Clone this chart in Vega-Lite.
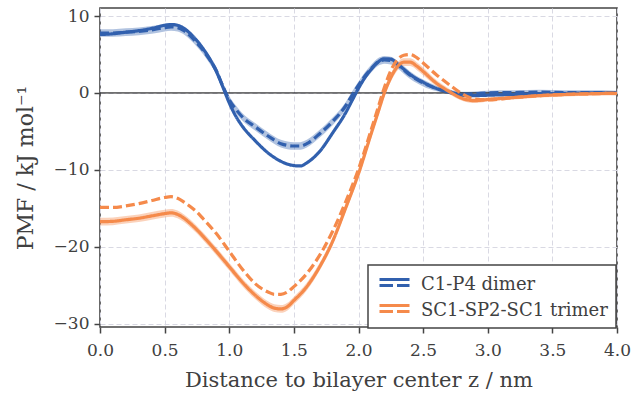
{
  "$schema": "https://vega.github.io/schema/vega-lite/v6.json",
  "width": 517,
  "height": 319,
  "autosize": {"type": "none"},
  "padding": {"left": 100, "top": 8, "right": 16, "bottom": 66},
  "background": "white",
  "config": {
    "font": "DejaVu Serif",
    "view": {"stroke": "#444444", "strokeWidth": 1.6},
    "axis": {
      "domain": false,
      "grid": true,
      "gridColor": "#d9d9e3",
      "gridDash": [5, 3],
      "gridWidth": 1,
      "ticks": true,
      "tickColor": "#444444",
      "tickSize": 6,
      "tickWidth": 1.5,
      "labelFont": "DejaVu Serif",
      "labelFontSize": 17,
      "labelColor": "#404040",
      "titleFont": "DejaVu Serif",
      "titleFontSize": 21,
      "titleFontWeight": "normal",
      "titleColor": "#404040",
      "labelFlush": false
    },
    "legend": {"strokeWidth": 1.5}
  },
  "datasets": {
    "curves": [
      {"z":0.0,"v":7.6,"s":"C1-P4 dimer","d":"solid"},
      {"z":0.1,"v":7.7,"s":"C1-P4 dimer","d":"solid"},
      {"z":0.2,"v":7.9,"s":"C1-P4 dimer","d":"solid"},
      {"z":0.3,"v":8.1,"s":"C1-P4 dimer","d":"solid"},
      {"z":0.4,"v":8.4,"s":"C1-P4 dimer","d":"solid"},
      {"z":0.5,"v":8.8,"s":"C1-P4 dimer","d":"solid"},
      {"z":0.55,"v":8.9,"s":"C1-P4 dimer","d":"solid"},
      {"z":0.6,"v":8.8,"s":"C1-P4 dimer","d":"solid"},
      {"z":0.65,"v":8.4,"s":"C1-P4 dimer","d":"solid"},
      {"z":0.7,"v":7.7,"s":"C1-P4 dimer","d":"solid"},
      {"z":0.75,"v":6.8,"s":"C1-P4 dimer","d":"solid"},
      {"z":0.8,"v":5.7,"s":"C1-P4 dimer","d":"solid"},
      {"z":0.85,"v":4.4,"s":"C1-P4 dimer","d":"solid"},
      {"z":0.9,"v":2.8,"s":"C1-P4 dimer","d":"solid"},
      {"z":0.95,"v":0.8,"s":"C1-P4 dimer","d":"solid"},
      {"z":1.0,"v":-1.3,"s":"C1-P4 dimer","d":"solid"},
      {"z":1.05,"v":-3.0,"s":"C1-P4 dimer","d":"solid"},
      {"z":1.1,"v":-4.3,"s":"C1-P4 dimer","d":"solid"},
      {"z":1.2,"v":-6.2,"s":"C1-P4 dimer","d":"solid"},
      {"z":1.3,"v":-7.8,"s":"C1-P4 dimer","d":"solid"},
      {"z":1.4,"v":-8.9,"s":"C1-P4 dimer","d":"solid"},
      {"z":1.5,"v":-9.45,"s":"C1-P4 dimer","d":"solid"},
      {"z":1.55,"v":-9.5,"s":"C1-P4 dimer","d":"solid"},
      {"z":1.6,"v":-9.1,"s":"C1-P4 dimer","d":"solid"},
      {"z":1.7,"v":-7.6,"s":"C1-P4 dimer","d":"solid"},
      {"z":1.8,"v":-5.2,"s":"C1-P4 dimer","d":"solid"},
      {"z":1.9,"v":-2.6,"s":"C1-P4 dimer","d":"solid"},
      {"z":1.95,"v":-1.0,"s":"C1-P4 dimer","d":"solid"},
      {"z":2.0,"v":0.6,"s":"C1-P4 dimer","d":"solid"},
      {"z":2.05,"v":2.0,"s":"C1-P4 dimer","d":"solid"},
      {"z":2.1,"v":3.1,"s":"C1-P4 dimer","d":"solid"},
      {"z":2.15,"v":4.0,"s":"C1-P4 dimer","d":"solid"},
      {"z":2.2,"v":4.45,"s":"C1-P4 dimer","d":"solid"},
      {"z":2.25,"v":4.4,"s":"C1-P4 dimer","d":"solid"},
      {"z":2.3,"v":3.8,"s":"C1-P4 dimer","d":"solid"},
      {"z":2.35,"v":3.1,"s":"C1-P4 dimer","d":"solid"},
      {"z":2.4,"v":2.4,"s":"C1-P4 dimer","d":"solid"},
      {"z":2.5,"v":1.4,"s":"C1-P4 dimer","d":"solid"},
      {"z":2.6,"v":0.6,"s":"C1-P4 dimer","d":"solid"},
      {"z":2.7,"v":0.1,"s":"C1-P4 dimer","d":"solid"},
      {"z":2.8,"v":-0.3,"s":"C1-P4 dimer","d":"solid"},
      {"z":2.9,"v":-0.35,"s":"C1-P4 dimer","d":"solid"},
      {"z":3.0,"v":-0.3,"s":"C1-P4 dimer","d":"solid"},
      {"z":3.2,"v":-0.2,"s":"C1-P4 dimer","d":"solid"},
      {"z":3.4,"v":-0.1,"s":"C1-P4 dimer","d":"solid"},
      {"z":3.6,"v":-0.05,"s":"C1-P4 dimer","d":"solid"},
      {"z":3.8,"v":0.0,"s":"C1-P4 dimer","d":"solid"},
      {"z":4.0,"v":0.0,"s":"C1-P4 dimer","d":"solid"},

      {"z":0.0,"v":7.8,"lo":7.3,"hi":8.3,"s":"C1-P4 dimer","d":"dashed"},
      {"z":0.1,"v":7.8,"lo":7.3,"hi":8.3,"s":"C1-P4 dimer","d":"dashed"},
      {"z":0.2,"v":7.9,"lo":7.4,"hi":8.4,"s":"C1-P4 dimer","d":"dashed"},
      {"z":0.3,"v":8.0,"lo":7.5,"hi":8.5,"s":"C1-P4 dimer","d":"dashed"},
      {"z":0.4,"v":8.2,"lo":7.7,"hi":8.7,"s":"C1-P4 dimer","d":"dashed"},
      {"z":0.5,"v":8.5,"lo":8.0,"hi":9.0,"s":"C1-P4 dimer","d":"dashed"},
      {"z":0.55,"v":8.6,"lo":8.1,"hi":9.1,"s":"C1-P4 dimer","d":"dashed"},
      {"z":0.6,"v":8.5,"lo":8.0,"hi":9.0,"s":"C1-P4 dimer","d":"dashed"},
      {"z":0.65,"v":8.1,"lo":7.6,"hi":8.6,"s":"C1-P4 dimer","d":"dashed"},
      {"z":0.7,"v":7.4,"lo":6.9,"hi":7.9,"s":"C1-P4 dimer","d":"dashed"},
      {"z":0.75,"v":6.5,"lo":6.0,"hi":7.0,"s":"C1-P4 dimer","d":"dashed"},
      {"z":0.8,"v":5.5,"lo":5.0,"hi":6.0,"s":"C1-P4 dimer","d":"dashed"},
      {"z":0.85,"v":4.3,"lo":3.8,"hi":4.8,"s":"C1-P4 dimer","d":"dashed"},
      {"z":0.9,"v":2.9,"lo":2.4,"hi":3.4,"s":"C1-P4 dimer","d":"dashed"},
      {"z":0.95,"v":0.9,"lo":0.4,"hi":1.4,"s":"C1-P4 dimer","d":"dashed"},
      {"z":1.0,"v":-0.9,"lo":-1.4,"hi":-0.4,"s":"C1-P4 dimer","d":"dashed"},
      {"z":1.05,"v":-2.1,"lo":-2.6,"hi":-1.6,"s":"C1-P4 dimer","d":"dashed"},
      {"z":1.1,"v":-3.1,"lo":-3.6,"hi":-2.6,"s":"C1-P4 dimer","d":"dashed"},
      {"z":1.2,"v":-4.4,"lo":-4.9,"hi":-3.9,"s":"C1-P4 dimer","d":"dashed"},
      {"z":1.3,"v":-5.6,"lo":-6.1,"hi":-5.1,"s":"C1-P4 dimer","d":"dashed"},
      {"z":1.4,"v":-6.6,"lo":-7.1,"hi":-6.1,"s":"C1-P4 dimer","d":"dashed"},
      {"z":1.5,"v":-6.9,"lo":-7.4,"hi":-6.4,"s":"C1-P4 dimer","d":"dashed"},
      {"z":1.55,"v":-6.9,"lo":-7.4,"hi":-6.4,"s":"C1-P4 dimer","d":"dashed"},
      {"z":1.6,"v":-6.6,"lo":-7.1,"hi":-6.1,"s":"C1-P4 dimer","d":"dashed"},
      {"z":1.7,"v":-5.3,"lo":-5.8,"hi":-4.8,"s":"C1-P4 dimer","d":"dashed"},
      {"z":1.8,"v":-3.7,"lo":-4.2,"hi":-3.2,"s":"C1-P4 dimer","d":"dashed"},
      {"z":1.9,"v":-1.7,"lo":-2.2,"hi":-1.2,"s":"C1-P4 dimer","d":"dashed"},
      {"z":1.95,"v":-0.3,"lo":-0.8,"hi":0.2,"s":"C1-P4 dimer","d":"dashed"},
      {"z":2.0,"v":1.0,"lo":0.5,"hi":1.5,"s":"C1-P4 dimer","d":"dashed"},
      {"z":2.05,"v":2.2,"lo":1.7,"hi":2.7,"s":"C1-P4 dimer","d":"dashed"},
      {"z":2.1,"v":3.2,"lo":2.7,"hi":3.7,"s":"C1-P4 dimer","d":"dashed"},
      {"z":2.15,"v":4.0,"lo":3.5,"hi":4.5,"s":"C1-P4 dimer","d":"dashed"},
      {"z":2.2,"v":4.3,"lo":3.8,"hi":4.8,"s":"C1-P4 dimer","d":"dashed"},
      {"z":2.25,"v":4.2,"lo":3.7,"hi":4.7,"s":"C1-P4 dimer","d":"dashed"},
      {"z":2.3,"v":3.7,"lo":3.2,"hi":4.2,"s":"C1-P4 dimer","d":"dashed"},
      {"z":2.35,"v":3.0,"lo":2.5,"hi":3.5,"s":"C1-P4 dimer","d":"dashed"},
      {"z":2.4,"v":2.3,"lo":1.8,"hi":2.8,"s":"C1-P4 dimer","d":"dashed"},
      {"z":2.5,"v":1.3,"lo":0.85,"hi":1.75,"s":"C1-P4 dimer","d":"dashed"},
      {"z":2.6,"v":0.6,"lo":0.25,"hi":0.95,"s":"C1-P4 dimer","d":"dashed"},
      {"z":2.7,"v":0.15,"lo":-0.15,"hi":0.45,"s":"C1-P4 dimer","d":"dashed"},
      {"z":2.8,"v":-0.15,"lo":-0.45,"hi":0.15,"s":"C1-P4 dimer","d":"dashed"},
      {"z":2.9,"v":-0.1,"lo":-0.4,"hi":0.2,"s":"C1-P4 dimer","d":"dashed"},
      {"z":3.0,"v":0.0,"lo":-0.3,"hi":0.3,"s":"C1-P4 dimer","d":"dashed"},
      {"z":3.2,"v":0.05,"lo":-0.25,"hi":0.35,"s":"C1-P4 dimer","d":"dashed"},
      {"z":3.4,"v":0.1,"lo":-0.2,"hi":0.4,"s":"C1-P4 dimer","d":"dashed"},
      {"z":3.6,"v":0.05,"lo":-0.25,"hi":0.35,"s":"C1-P4 dimer","d":"dashed"},
      {"z":3.8,"v":0.05,"lo":-0.25,"hi":0.35,"s":"C1-P4 dimer","d":"dashed"},
      {"z":4.0,"v":0.0,"lo":-0.3,"hi":0.3,"s":"C1-P4 dimer","d":"dashed"},

      {"z":0.0,"v":-16.75,"lo":-17.25,"hi":-16.25,"s":"SC1-SP2-SC1 trimer","d":"solid"},
      {"z":0.1,"v":-16.7,"lo":-17.2,"hi":-16.2,"s":"SC1-SP2-SC1 trimer","d":"solid"},
      {"z":0.2,"v":-16.5,"lo":-17.0,"hi":-16.0,"s":"SC1-SP2-SC1 trimer","d":"solid"},
      {"z":0.3,"v":-16.3,"lo":-16.8,"hi":-15.8,"s":"SC1-SP2-SC1 trimer","d":"solid"},
      {"z":0.4,"v":-16.0,"lo":-16.5,"hi":-15.5,"s":"SC1-SP2-SC1 trimer","d":"solid"},
      {"z":0.5,"v":-15.7,"lo":-16.2,"hi":-15.2,"s":"SC1-SP2-SC1 trimer","d":"solid"},
      {"z":0.55,"v":-15.6,"lo":-16.1,"hi":-15.1,"s":"SC1-SP2-SC1 trimer","d":"solid"},
      {"z":0.6,"v":-15.8,"lo":-16.3,"hi":-15.3,"s":"SC1-SP2-SC1 trimer","d":"solid"},
      {"z":0.65,"v":-16.3,"lo":-16.8,"hi":-15.8,"s":"SC1-SP2-SC1 trimer","d":"solid"},
      {"z":0.7,"v":-17.0,"lo":-17.5,"hi":-16.5,"s":"SC1-SP2-SC1 trimer","d":"solid"},
      {"z":0.75,"v":-17.8,"lo":-18.3,"hi":-17.3,"s":"SC1-SP2-SC1 trimer","d":"solid"},
      {"z":0.8,"v":-18.7,"lo":-19.2,"hi":-18.2,"s":"SC1-SP2-SC1 trimer","d":"solid"},
      {"z":0.9,"v":-20.6,"lo":-21.1,"hi":-20.1,"s":"SC1-SP2-SC1 trimer","d":"solid"},
      {"z":1.0,"v":-22.6,"lo":-23.1,"hi":-22.1,"s":"SC1-SP2-SC1 trimer","d":"solid"},
      {"z":1.1,"v":-24.6,"lo":-25.1,"hi":-24.1,"s":"SC1-SP2-SC1 trimer","d":"solid"},
      {"z":1.2,"v":-26.3,"lo":-26.8,"hi":-25.8,"s":"SC1-SP2-SC1 trimer","d":"solid"},
      {"z":1.3,"v":-27.6,"lo":-28.1,"hi":-27.1,"s":"SC1-SP2-SC1 trimer","d":"solid"},
      {"z":1.35,"v":-28.0,"lo":-28.5,"hi":-27.5,"s":"SC1-SP2-SC1 trimer","d":"solid"},
      {"z":1.4,"v":-28.1,"lo":-28.6,"hi":-27.6,"s":"SC1-SP2-SC1 trimer","d":"solid"},
      {"z":1.45,"v":-27.8,"lo":-28.3,"hi":-27.3,"s":"SC1-SP2-SC1 trimer","d":"solid"},
      {"z":1.5,"v":-27.0,"lo":-27.5,"hi":-26.5,"s":"SC1-SP2-SC1 trimer","d":"solid"},
      {"z":1.6,"v":-25.2,"lo":-25.7,"hi":-24.7,"s":"SC1-SP2-SC1 trimer","d":"solid"},
      {"z":1.7,"v":-22.6,"lo":-23.1,"hi":-22.1,"s":"SC1-SP2-SC1 trimer","d":"solid"},
      {"z":1.8,"v":-19.3,"lo":-19.8,"hi":-18.8,"s":"SC1-SP2-SC1 trimer","d":"solid"},
      {"z":1.9,"v":-15.0,"lo":-15.5,"hi":-14.5,"s":"SC1-SP2-SC1 trimer","d":"solid"},
      {"z":2.0,"v":-10.5,"lo":-11.0,"hi":-10.0,"s":"SC1-SP2-SC1 trimer","d":"solid"},
      {"z":2.1,"v":-5.2,"lo":-5.7,"hi":-4.7,"s":"SC1-SP2-SC1 trimer","d":"solid"},
      {"z":2.15,"v":-2.6,"lo":-3.1,"hi":-2.1,"s":"SC1-SP2-SC1 trimer","d":"solid"},
      {"z":2.2,"v":0.0,"lo":-0.5,"hi":0.5,"s":"SC1-SP2-SC1 trimer","d":"solid"},
      {"z":2.25,"v":2.0,"lo":1.5,"hi":2.5,"s":"SC1-SP2-SC1 trimer","d":"solid"},
      {"z":2.3,"v":3.4,"lo":2.9,"hi":3.9,"s":"SC1-SP2-SC1 trimer","d":"solid"},
      {"z":2.35,"v":4.0,"lo":3.5,"hi":4.5,"s":"SC1-SP2-SC1 trimer","d":"solid"},
      {"z":2.4,"v":4.0,"lo":3.5,"hi":4.5,"s":"SC1-SP2-SC1 trimer","d":"solid"},
      {"z":2.45,"v":3.5,"lo":3.0,"hi":4.0,"s":"SC1-SP2-SC1 trimer","d":"solid"},
      {"z":2.5,"v":2.8,"lo":2.3,"hi":3.3,"s":"SC1-SP2-SC1 trimer","d":"solid"},
      {"z":2.6,"v":1.3,"lo":0.9,"hi":1.7,"s":"SC1-SP2-SC1 trimer","d":"solid"},
      {"z":2.7,"v":0.2,"lo":-0.15,"hi":0.55,"s":"SC1-SP2-SC1 trimer","d":"solid"},
      {"z":2.8,"v":-0.7,"lo":-1.0,"hi":-0.4,"s":"SC1-SP2-SC1 trimer","d":"solid"},
      {"z":2.9,"v":-1.0,"lo":-1.3,"hi":-0.7,"s":"SC1-SP2-SC1 trimer","d":"solid"},
      {"z":3.0,"v":-0.85,"lo":-1.1,"hi":-0.6,"s":"SC1-SP2-SC1 trimer","d":"solid"},
      {"z":3.2,"v":-0.6,"lo":-0.85,"hi":-0.35,"s":"SC1-SP2-SC1 trimer","d":"solid"},
      {"z":3.4,"v":-0.35,"lo":-0.6,"hi":-0.1,"s":"SC1-SP2-SC1 trimer","d":"solid"},
      {"z":3.6,"v":-0.2,"lo":-0.45,"hi":0.05,"s":"SC1-SP2-SC1 trimer","d":"solid"},
      {"z":3.8,"v":-0.1,"lo":-0.35,"hi":0.15,"s":"SC1-SP2-SC1 trimer","d":"solid"},
      {"z":4.0,"v":-0.05,"lo":-0.3,"hi":0.2,"s":"SC1-SP2-SC1 trimer","d":"solid"},

      {"z":0.0,"v":-14.9,"s":"SC1-SP2-SC1 trimer","d":"dashed"},
      {"z":0.1,"v":-14.9,"s":"SC1-SP2-SC1 trimer","d":"dashed"},
      {"z":0.2,"v":-14.7,"s":"SC1-SP2-SC1 trimer","d":"dashed"},
      {"z":0.3,"v":-14.4,"s":"SC1-SP2-SC1 trimer","d":"dashed"},
      {"z":0.4,"v":-14.0,"s":"SC1-SP2-SC1 trimer","d":"dashed"},
      {"z":0.5,"v":-13.6,"s":"SC1-SP2-SC1 trimer","d":"dashed"},
      {"z":0.55,"v":-13.5,"s":"SC1-SP2-SC1 trimer","d":"dashed"},
      {"z":0.6,"v":-13.7,"s":"SC1-SP2-SC1 trimer","d":"dashed"},
      {"z":0.65,"v":-14.2,"s":"SC1-SP2-SC1 trimer","d":"dashed"},
      {"z":0.7,"v":-14.8,"s":"SC1-SP2-SC1 trimer","d":"dashed"},
      {"z":0.75,"v":-15.5,"s":"SC1-SP2-SC1 trimer","d":"dashed"},
      {"z":0.8,"v":-16.4,"s":"SC1-SP2-SC1 trimer","d":"dashed"},
      {"z":0.9,"v":-18.3,"s":"SC1-SP2-SC1 trimer","d":"dashed"},
      {"z":1.0,"v":-20.6,"s":"SC1-SP2-SC1 trimer","d":"dashed"},
      {"z":1.1,"v":-22.9,"s":"SC1-SP2-SC1 trimer","d":"dashed"},
      {"z":1.2,"v":-24.8,"s":"SC1-SP2-SC1 trimer","d":"dashed"},
      {"z":1.3,"v":-25.9,"s":"SC1-SP2-SC1 trimer","d":"dashed"},
      {"z":1.35,"v":-26.2,"s":"SC1-SP2-SC1 trimer","d":"dashed"},
      {"z":1.4,"v":-26.2,"s":"SC1-SP2-SC1 trimer","d":"dashed"},
      {"z":1.45,"v":-25.9,"s":"SC1-SP2-SC1 trimer","d":"dashed"},
      {"z":1.5,"v":-25.2,"s":"SC1-SP2-SC1 trimer","d":"dashed"},
      {"z":1.6,"v":-23.5,"s":"SC1-SP2-SC1 trimer","d":"dashed"},
      {"z":1.7,"v":-21.1,"s":"SC1-SP2-SC1 trimer","d":"dashed"},
      {"z":1.8,"v":-18.0,"s":"SC1-SP2-SC1 trimer","d":"dashed"},
      {"z":1.9,"v":-14.2,"s":"SC1-SP2-SC1 trimer","d":"dashed"},
      {"z":2.0,"v":-9.9,"s":"SC1-SP2-SC1 trimer","d":"dashed"},
      {"z":2.1,"v":-4.7,"s":"SC1-SP2-SC1 trimer","d":"dashed"},
      {"z":2.15,"v":-2.0,"s":"SC1-SP2-SC1 trimer","d":"dashed"},
      {"z":2.2,"v":0.7,"s":"SC1-SP2-SC1 trimer","d":"dashed"},
      {"z":2.25,"v":2.9,"s":"SC1-SP2-SC1 trimer","d":"dashed"},
      {"z":2.3,"v":4.3,"s":"SC1-SP2-SC1 trimer","d":"dashed"},
      {"z":2.35,"v":4.9,"s":"SC1-SP2-SC1 trimer","d":"dashed"},
      {"z":2.4,"v":5.0,"s":"SC1-SP2-SC1 trimer","d":"dashed"},
      {"z":2.45,"v":4.6,"s":"SC1-SP2-SC1 trimer","d":"dashed"},
      {"z":2.5,"v":3.9,"s":"SC1-SP2-SC1 trimer","d":"dashed"},
      {"z":2.6,"v":2.4,"s":"SC1-SP2-SC1 trimer","d":"dashed"},
      {"z":2.7,"v":1.1,"s":"SC1-SP2-SC1 trimer","d":"dashed"},
      {"z":2.8,"v":-0.1,"s":"SC1-SP2-SC1 trimer","d":"dashed"},
      {"z":2.9,"v":-0.8,"s":"SC1-SP2-SC1 trimer","d":"dashed"},
      {"z":3.0,"v":-0.9,"s":"SC1-SP2-SC1 trimer","d":"dashed"},
      {"z":3.2,"v":-0.6,"s":"SC1-SP2-SC1 trimer","d":"dashed"},
      {"z":3.4,"v":-0.35,"s":"SC1-SP2-SC1 trimer","d":"dashed"},
      {"z":3.6,"v":-0.2,"s":"SC1-SP2-SC1 trimer","d":"dashed"},
      {"z":3.8,"v":-0.1,"s":"SC1-SP2-SC1 trimer","d":"dashed"},
      {"z":4.0,"v":-0.05,"s":"SC1-SP2-SC1 trimer","d":"dashed"}
    ],
    "zero": [{"v": 0}]
  },
  "layer": [
    {
      "data": {"name": "curves"},
      "transform": [{"filter": "isValid(datum.lo)"}],
      "mark": {"type": "area", "interpolate": "monotone", "fillOpacity": 0.38, "clip": true},
      "encoding": {
        "x": {"field": "z", "type": "quantitative", "scale": {"domain": [0, 4], "nice": false, "zero": false},
          "axis": {"values": [0, 0.5, 1, 1.5, 2, 2.5, 3, 3.5, 4], "format": ".1f", "title": "Distance to bilayer center z / nm", "labelPadding": 9, "titlePadding": 11}},
        "y": {"field": "lo", "type": "quantitative", "scale": {"domain": [-30.45, 11.05], "nice": false, "zero": false},
          "axis": {"values": [-30, -20, -10, 0, 10], "format": "d", "title": "PMF / kJ mol⁻¹", "titleFontSize": 22, "labelPadding": 5, "titlePadding": 16}},
        "y2": {"field": "hi"},
        "color": {"field": "s", "type": "nominal"},
        "detail": {"field": "d"}
      }
    },
    {
      "data": {"name": "zero"},
      "mark": {"type": "rule", "color": "black", "strokeWidth": 1},
      "encoding": {"y": {"field": "v", "type": "quantitative"}}
    },
    {
      "data": {"name": "curves"},
      "mark": {"type": "line", "interpolate": "monotone", "strokeWidth": 3.2, "clip": true},
      "encoding": {
        "x": {"field": "z", "type": "quantitative"},
        "y": {"field": "v", "type": "quantitative"},
        "color": {
          "field": "s", "type": "nominal",
          "scale": {"domain": ["C1-P4 dimer", "SC1-SP2-SC1 trimer"], "range": ["#3160ae", "#f58a4b"]},
          "legend": {
            "orient": "none", "legendX": 268, "legendY": 257, "title": null,
            "symbolType": "M-0.8,-0.5H2.2M-0.8,0.1H0.55M0.95,0.1H2.2",
            "symbolSize": 400, "symbolStrokeWidth": 3, "symbolOpacity": 1,
            "labelOffset": 22, "labelFontSize": 18, "labelFont": "DejaVu Serif", "labelColor": "#404040", "labelLimit": 400,
            "padding": 8, "rowPadding": 5, "fillColor": "white", "strokeColor": "#444444", "cornerRadius": 0,
            "encode": {"symbols": {"update": {"opacity": {"value": 1}, "strokeOpacity": {"value": 1}, "fillOpacity": {"value": 0}}}}
          }
        },
        "strokeDash": {"field": "d", "type": "nominal", "scale": {"domain": ["solid", "dashed"], "range": [[1, 0], [9, 4]]}, "legend": null}
      }
    }
  ]
}
